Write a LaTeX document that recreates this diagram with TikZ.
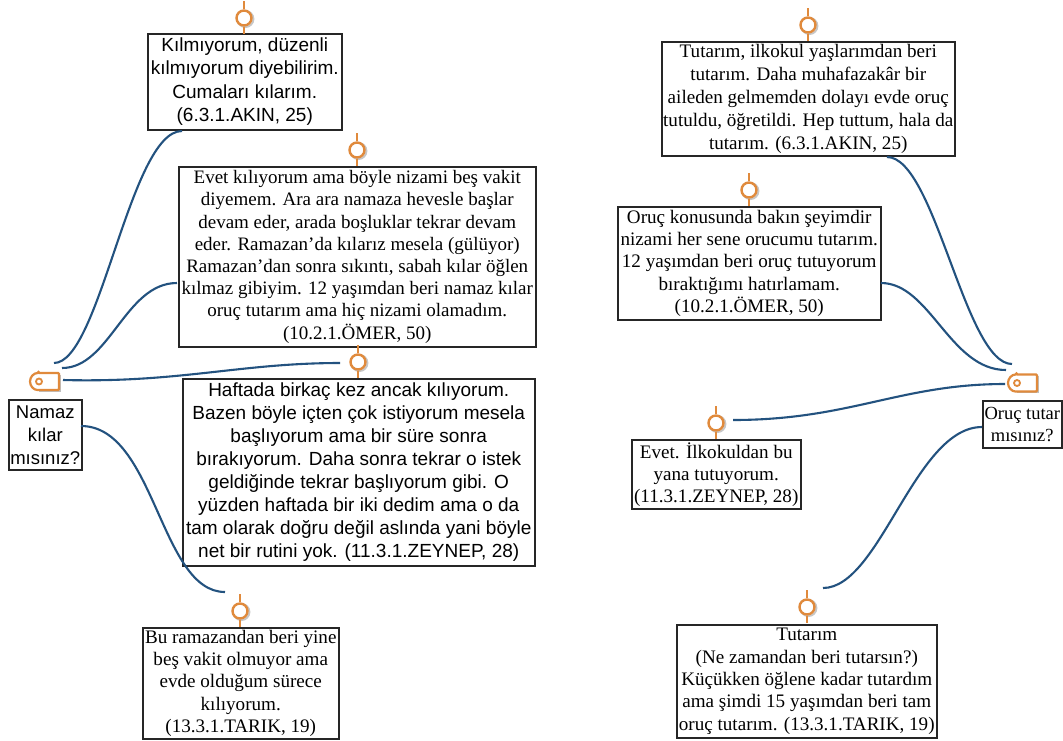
\documentclass[tikz,border=0pt]{standalone}
\usepackage{fontspec}
\setmainfont{Liberation Serif}
\newfontfamily\sansf{Liberation Sans}
\usetikzlibrary{calc}
\definecolor{wire}{HTML}{23527F}
\definecolor{pinc}{HTML}{E08A3C}
\tikzset{
 x=1pt,y=-1pt,
 boxbase/.style={draw=black!85,line width=1.5pt,fill=white,inner sep=0pt,anchor=north west},
 wirel/.style={draw=wire,line width=2.1pt},
 pinring/.style={circle,draw=pinc,line width=2.4pt,fill=white,minimum size=15pt,inner sep=0pt},
 stem/.style={draw=pinc,line width=2.2pt},
 softshadow/.style={fill=black!30,draw=none},
}
\newcommand{\tbox}[9]{%
 \fill[softshadow] (#2+1.5,#3+1.5) rectangle (#4+1.8,#5+1.8);
 \node[boxbase,minimum width=#4pt-#2pt,minimum height=#5pt-#3pt] (#1) at (#2,#3) {};
 \node[align=center,inner sep=0pt,font={#6\fontsize{#7}{#8}\selectfont}] (#1t) at (#1.center) {#9};
}
\newcommand{\pin}[3]{%
 \draw[black!22,line width=2pt] (#2+1.4,#3+1) circle[radius=8];
 \node[pinring] (#1) at (#2,#3) {};
 \draw[stem] (#1.north) -- ++(0,-8);
 \draw[stem] (#1.south) -- ++(0,7.5);
}
\newcommand{\tagicon}[3]{%
 \fill[black!25] (#2-6,#3-7) rectangle (#2+16,#3+10);
 \node[inner sep=0pt,minimum width=29pt,minimum height=17pt] (#1) at (#2,#3) {};
 \draw[pinc,line width=2.2pt,fill=white,rounded corners=1pt] (#2-6,#3-8.5) -- (#2+14.5,#3-8.5) -- (#2+14.5,#3+8.5) -- (#2-6,#3+8.5) arc[start angle=90,end angle=270,radius=8.5] -- cycle;
 \draw[pinc,line width=1.8pt] (#2-5.5,#3) circle[radius=3];
}
\begin{document}
\begin{tikzpicture}
\useasboundingbox (0,0) rectangle (1063,740);
\fill[white] (0,0) rectangle (1063,740);
\tbox{A}{147}{33}{341}{129}{\sansf}{19}{23.4}{Kılmıyorum, düzenli\\kılmıyorum diyebilirim.\\Cumaları kılarım.\\(6.3.1.AKIN, 25)}
\tbox{B}{178}{166}{535}{346}{}{19}{22.2}{Evet kılıyorum ama böyle nizami beş vakit\\diyemem. Ara ara namaza hevesle başlar\\devam eder, arada boşluklar tekrar devam\\eder. Ramazan’da kılarız mesela (gülüyor)\\Ramazan’dan sonra sıkıntı, sabah kılar öğlen\\kılmaz gibiyim. 12 yaşımdan beri namaz kılar\\oruç tutarım ama hiç nizami olamadım.\\(10.2.1.ÖMER, 50)}
\tbox{C}{182}{378}{534}{565}{\sansf}{19}{23}{Haftada birkaç kez ancak kılıyorum.\\Bazen böyle içten çok istiyorum mesela\\başlıyorum ama bir süre sonra\\bırakıyorum. Daha sonra tekrar o istek\\geldiğinde tekrar başlıyorum gibi. O\\yüzden haftada bir iki dedim ama o da\\tam olarak doğru değil aslında yani böyle\\net bir rutini yok. (11.3.1.ZEYNEP, 28)}
\tbox{D}{142}{627}{338}{738}{}{19.1}{22.2}{Bu ramazandan beri yine\\beş vakit olmuyor ama\\evde olduğum sürece\\kılıyorum.\\(13.3.1.TARIK, 19)}
\tbox{E}{661}{41}{954}{155}{}{19.1}{23}{Tutarım, ilkokul yaşlarımdan beri\\tutarım. Daha muhafazakâr bir\\aileden gelmemden dolayı evde oruç\\tutuldu, öğretildi. Hep tuttum, hala da\\tutarım. (6.3.1.AKIN, 25)}
\tbox{F}{617}{206}{880}{319}{}{19.1}{22.4}{Oruç konusunda bakın şeyimdir\\nizami her sene orucumu tutarım.\\12 yaşımdan beri oruç tutuyorum\\bıraktığımı hatırlamam.\\(10.2.1.ÖMER, 50)}
\tbox{G}{631}{439}{800}{508}{}{19.1}{22}{Evet. İlkokuldan bu\\yana tutuyorum.\\(11.3.1.ZEYNEP, 28)}
\tbox{H}{676}{624}{936}{737}{}{19.1}{22.3}{Tutarım\\(Ne zamandan beri tutarsın?)\\Küçükken öğlene kadar tutardım\\ama şimdi 15 yaşımdan beri tam\\oruç tutarım. (13.3.1.TARIK, 19)}
\tbox{N}{8}{399}{81}{469}{\sansf}{18.5}{23}{Namaz\\kılar\\mısınız?}
\tbox{O}{982}{400}{1061}{447}{}{18.5}{22}{Oruç tutar\\mısınız?}
\pin{pA}{244}{18}
\pin{pB}{357}{150}
\pin{pC}{358}{362}
\pin{pD}{240}{611}
\pin{pE}{808}{25}
\pin{pF}{749}{190}
\pin{pG}{716}{423}
\pin{pH}{807}{607}
\tagicon{tN}{44.5}{381.5}
\tagicon{tO}{1022.5}{383}
\coordinate (n1) at (54,363);
\coordinate (n2) at (62,368);
\coordinate (n3) at (63,380);
\coordinate (o1) at (1012,364);
\coordinate (o2) at (1006,370);
\coordinate (o3) at (1005,384);
\coordinate (a1) at (182,131);
\coordinate (b1) at (177,283);
\coordinate (e1) at (887,157);
\coordinate (f1) at (881,283);
\coordinate (g1) at (733,420);
\coordinate (h1) at (823,588);
\coordinate (c1) at (340,363);
\coordinate (d1) at (225,592);
\coordinate (nr) at (81,426);
\coordinate (ol) at (982,427);
\draw[wirel] (n1) .. controls (100,363) and (130,131) .. (a1);
\draw[wirel] (n2) .. controls (110,368) and (125,283) .. (b1);
\draw[wirel] (n3) .. controls (180,383) and (240,363) .. (c1);
\draw[wirel] (nr) .. controls (155,426) and (160,592) .. (d1);
\draw[wirel] (o1) .. controls (965,364) and (935,157) .. (e1);
\draw[wirel] (o2) .. controls (950,370) and (930,283) .. (f1);
\draw[wirel] (g1) .. controls (850,420) and (900,384) .. (o3);
\draw[wirel] (ol) .. controls (915,427) and (880,588) .. (h1);
\end{tikzpicture}
\end{document}
